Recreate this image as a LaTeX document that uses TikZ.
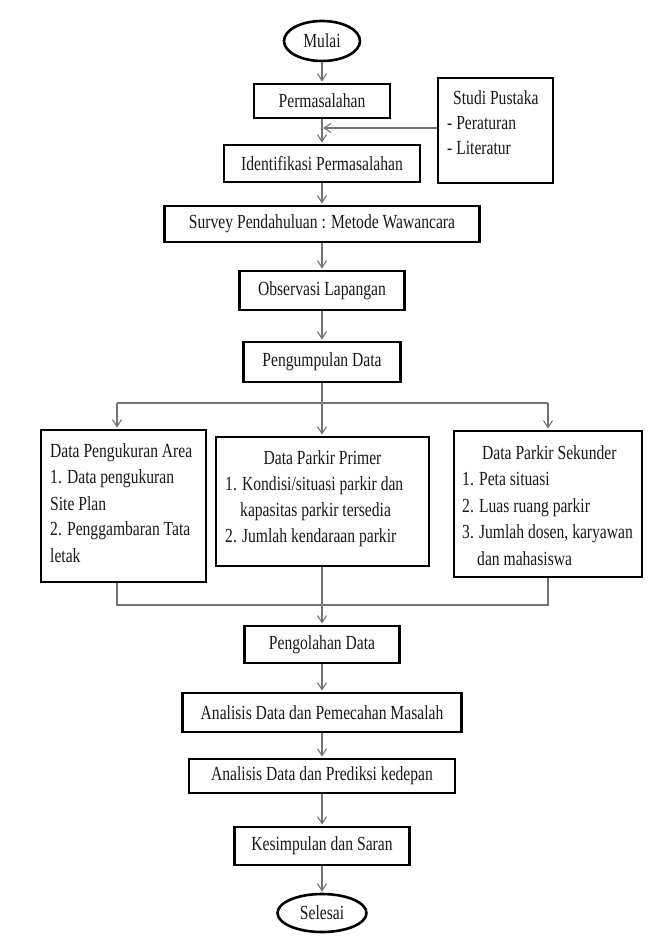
\documentclass[tikz,border=0pt]{standalone}
\usepackage{fontspec}
\setmainfont{Liberation Serif}[FakeStretch=0.78]
\usetikzlibrary{arrows.meta,shapes.geometric}
\begin{document}
\begin{tikzpicture}[x=1pt,y=-1pt,
  txt/.style={inner sep=0pt, font=\fontsize{20}{26}\selectfont, text=black!90},
  box/.style={txt, draw=black, line width=2.8pt, fill=white, align=center},
  term/.style={txt, ellipse, draw=black, line width=2.6pt, fill=white},
  conn/.style={draw=black!55, line width=1.1pt},
  arr/.style={conn, -{Straight Barb[length=7pt,width=9pt,line width=1.1pt]}, shorten >=1pt}
]
\fill[white] (0,0) rectangle (651,941);
\useasboundingbox (0,0) rectangle (651,941);

% main column
\node[term, minimum width=76, minimum height=40] (mulai) at (322,41) {Mulai};
\node[box, minimum width=136, minimum height=34] (perm) at (322,101) {Permasalahan};
\node[box, minimum width=196, minimum height=37] (ident) at (322,163.5) {Identifikasi Permasalahan};
\node[box, minimum width=115, minimum height=105] (studi) at (495.5,130.5) {};
\node[box, minimum width=315, minimum height=36] (survey) at (322,224) {Survey Pendahuluan : Metode Wawancara};
\node[box, minimum width=165, minimum height=39] (obs) at (322,290.5) {Observasi Lapangan};
\node[box, minimum width=157, minimum height=40] (kump) at (322,362) {Pengumpulan Data};

% three data boxes
\node[box, minimum width=165, minimum height=152] (left) at (123.5,506) {};
\node[box, minimum width=213, minimum height=129] (center) at (322.5,501.5) {};
\node[box, minimum width=188, minimum height=146] (right) at (548,504) {};

% lower column
\node[box, minimum width=155, minimum height=37] (peng) at (322,644.5) {Pengolahan Data};
\node[box, minimum width=279, minimum height=39] (an1) at (322,712.5) {Analisis Data dan Pemecahan Masalah};
\node[box, minimum width=266, minimum height=34] (an2) at (322,776) {Analisis Data dan Prediksi kedepan};
\node[box, minimum width=175, minimum height=38] (kes) at (322,846) {Kesimpulan dan Saran};
\node[term, minimum width=89, minimum height=38] (selesai) at (322,913) {Selesai};

% texts of Studi Pustaka
\node[txt, anchor=base west] (s1) at (453,105) {Studi Pustaka};
\node[txt, anchor=base west] (s2) at (447,130) {- Peraturan};
\node[txt, anchor=base west] (s3) at (447,155) {- Literatur};

% texts of left box
\node[txt, anchor=base west] (l1) at (50,457) {Data Pengukuran Area};
\node[txt, anchor=base west] (l2) at (50,483) {1. Data pengukuran};
\node[txt, anchor=base west] (l3) at (50,510) {Site Plan};
\node[txt, anchor=base west] (l4) at (50,535) {2. Penggambaran Tata};
\node[txt, anchor=base west] (l5) at (50,562) {letak};

% texts of center box
\node[txt, anchor=base] (c1) at (322.5,464) {Data Parkir Primer};
\node[txt, anchor=base west] (c2) at (225,490) {1. Kondisi/situasi parkir dan};
\node[txt, anchor=base west] (c3) at (240,516) {kapasitas parkir tersedia};
\node[txt, anchor=base west] (c4) at (225,542) {2. Jumlah kendaraan parkir};

% texts of right box
\node[txt, anchor=base west] (r1) at (482,459) {Data Parkir Sekunder};
\node[txt, anchor=base west] (r2) at (462,485) {1. Peta situasi};
\node[txt, anchor=base west] (r3) at (462,512) {2. Luas ruang parkir};
\node[txt, anchor=base west] (r4) at (462,538) {3. Jumlah dosen, karyawan};
\node[txt, anchor=base west] (r5) at (477,565) {dan mahasiswa};

% connectors
\draw[arr] (mulai) -- (perm);
\draw[arr] (perm) -- (ident);
\coordinate (j1) at (322,128);
\draw[arr] (studi.west |- j1) -- (j1);
\draw[arr] (ident) -- (survey);
\draw[arr] (survey) -- (obs);
\draw[arr] (obs) -- (kump);

\coordinate (split) at (322,403);
\coordinate (sl) at (117,403);
\coordinate (sr) at (548,403);
\draw[conn] (kump) -- (split);
\draw[conn] (sl) -- (sr);
\draw[arr] (sl) -- (sl |- left.north);
\draw[arr] (split) -- (split |- center.north);
\draw[arr] (sr) -- (right.north);

\coordinate (ml) at (117,605);
\coordinate (mr) at (548,605);
\draw[conn] (ml |- left.south) -- (ml) -- (mr) -- (right.south);
\draw[arr] (center.south -| peng.north) -- (peng);

\draw[arr] (peng) -- (an1);
\draw[arr] (an1) -- (an2);
\draw[arr] (an2) -- (kes);
\draw[arr] (kes) -- (selesai);
\end{tikzpicture}
\end{document}
